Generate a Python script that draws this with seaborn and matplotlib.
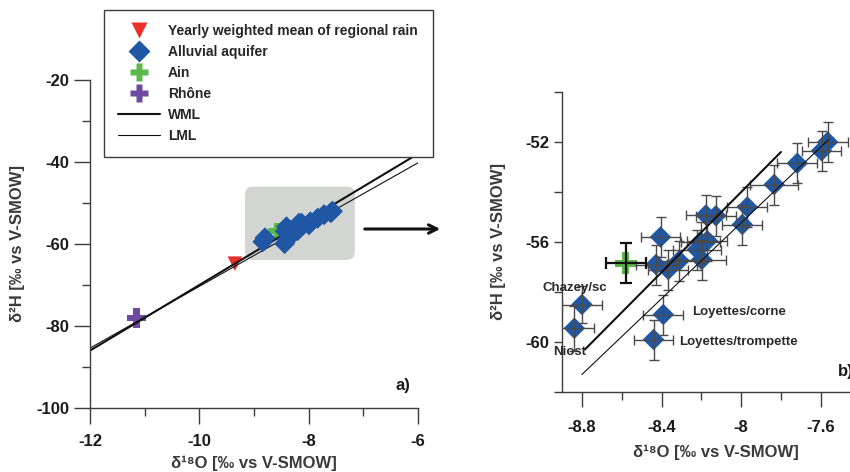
import matplotlib
matplotlib.use("Agg")
import matplotlib.pyplot as plt
from matplotlib.lines import Line2D
from matplotlib.patches import FancyBboxPatch, FancyArrowPatch
from matplotlib.ticker import MultipleLocator, FuncFormatter
import seaborn as sns

# ----------------------------------------------------------------------
# Data
# ----------------------------------------------------------------------
alluvial_d18o = [-7.565, -7.596, -7.718, -7.834, -7.969, -7.994, -8.127, -8.177,
                 -8.405, -8.204, -8.170, -8.220, -8.198, -8.311, -8.428, -8.366,
                 -8.800, -8.838, -8.391, -8.440]
alluvial_d2h = [-52.0, -52.35, -52.85, -53.7, -54.6, -55.3, -54.95, -54.92,
                -55.8, -56.0, -55.95, -56.3, -56.7, -56.75, -56.9, -57.1,
                -58.5, -59.45, -58.9, -59.9]
alluvial_err_x = [0.10, 0.10, 0.10, 0.12, 0.10, 0.10, 0.10, 0.10,
                  0.10, 0.10, 0.10, 0.12, 0.12, 0.10, 0.10, 0.10,
                  0.10, 0.10, 0.10, 0.10]
alluvial_err_y = [0.8, 0.8, 0.8, 0.8, 0.8, 0.8, 0.8, 0.8,
                  0.8, 0.8, 0.8, 0.8, 0.8, 0.8, 0.8, 0.8,
                  0.75, 0.9, 0.8, 0.8]

ain_d18o = [-8.58]
ain_d2h = [-56.85]
ain_err_x = [0.10]
ain_err_y = [0.8]

rhone_d18o = [-11.15]
rhone_d2h = [-78.1]

rain_d18o = [-9.35]
rain_d2h = [-64.8]

# meteoric lines (end points as drawn)
wml_a_x = [-12.0, -6.0]
wml_a_y = [-86.0, -38.0]
lml_a_x = [-12.0, -6.0]
lml_a_y = [-85.4, -40.2]
wml_b_x = [-8.785, -7.80]
wml_b_y = [-60.3, -52.4]
lml_b_x = [-8.80, -7.56]
lml_b_y = [-61.3, -51.9]

site_labels = ["Chazey/sc", "Niost", "Loyettes/corne", "Loyettes/trompette"]
site_x = [-8.835, -8.946, -8.244, -8.311]
site_y = [-57.84, -60.4, -58.79, -59.99]
site_ha = ["center", "left", "left", "left"]

# ----------------------------------------------------------------------
# Style
# ----------------------------------------------------------------------
sns.set_style("ticks")
plt.rcParams["font.family"] = ["Liberation Sans", "DejaVu Sans"]
plt.rcParams["font.weight"] = "bold"

RED = "#e8312b"
BLUE = "#1f57a5"
GREEN = "#5cb84a"
PURPLE = "#6c4ba0"
SPINE = "#3c3c3c"
LABEL = "#3a3a3a"

fig = plt.figure(figsize=(8.5, 4.72), dpi=100)
ax1 = fig.add_axes([90 / 850, 1 - 408 / 472, 328 / 850, 328 / 472])
ax2 = fig.add_axes([562 / 850, 1 - 392 / 472, 308.5 / 850, 300 / 472])

fmt = FuncFormatter(lambda v, _: f"{v:g}")

for ax in (ax1, ax2):
    for side in ("top", "right"):
        ax.spines[side].set_visible(False)
    for side in ("left", "bottom"):
        ax.spines[side].set_color(SPINE)
        ax.spines[side].set_linewidth(1.0)
    ax.tick_params(which="both", direction="out", color=SPINE, width=1.0,
                   labelsize=12, labelcolor="#1a1a1a")
    ax.xaxis.set_major_formatter(fmt)
    ax.yaxis.set_major_formatter(fmt)

# ----------------------------------------------------------------------
# Panel a
# ----------------------------------------------------------------------
ax1.set_xlim(-12, -6)
ax1.set_ylim(-100, -20)
ax1.xaxis.set_major_locator(MultipleLocator(2))
ax1.xaxis.set_minor_locator(MultipleLocator(1))
ax1.yaxis.set_major_locator(MultipleLocator(20))
ax1.yaxis.set_minor_locator(MultipleLocator(10))
ax1.tick_params(which="major", length=11.5)
ax1.tick_params(which="minor", length=5.8)
ax1.tick_params(axis="x", which="major", pad=7)

box = FancyBboxPatch((-9.165, -63.9), 2.01, 17.9,
                     boxstyle="round,pad=0,rounding_size=0.15",
                     mutation_aspect=13.3, facecolor="#d3d5d3",
                     edgecolor="none", zorder=0.5)
ax1.add_patch(box)

sns.lineplot(x=wml_a_x, y=wml_a_y, ax=ax1, color="#111111", lw=1.5, zorder=2.5)
sns.lineplot(x=lml_a_x, y=lml_a_y, ax=ax1, color="#111111", lw=0.8, zorder=2.5)

sns.scatterplot(x=rhone_d18o, y=rhone_d2h, ax=ax1, marker="P", s=200,
                color=PURPLE, edgecolor="none", zorder=2)
sns.scatterplot(x=rain_d18o, y=rain_d2h, ax=ax1, marker="v", s=110,
                color=RED, edgecolor="none", zorder=2)
sns.scatterplot(x=ain_d18o, y=ain_d2h, ax=ax1, marker="P", s=150,
                color=GREEN, edgecolor="none", zorder=2)
sns.scatterplot(x=alluvial_d18o, y=alluvial_d2h, ax=ax1, marker="D", s=115,
                color=BLUE, edgecolor="none", zorder=3)

ax1.set_xlabel("δ¹⁸O [‰ vs V-SMOW]", fontsize=12, fontweight="bold",
               color=LABEL, labelpad=5)
ax1.set_ylabel("δ²H [‰ vs V-SMOW]", fontsize=12, fontweight="bold",
               color=LABEL, labelpad=8)
ax1.text(0.954, 0.07, "a)", transform=ax1.transAxes, ha="center",
         va="center", fontsize=12, fontweight="bold", color="#1a1a1a")
ax1.spines["left"].set_bounds(-100, -20)

# ----------------------------------------------------------------------
# Panel b
# ----------------------------------------------------------------------
ax2.set_xlim(-8.9, -7.35)
ax2.set_ylim(-62, -50)
ax2.xaxis.set_minor_locator(MultipleLocator(0.2))
ax2.yaxis.set_minor_locator(MultipleLocator(2))
ax2.set_xticks([-8.8, -8.4, -8.0, -7.6])
ax2.set_yticks([-60, -56, -52])
ax2.tick_params(axis="x", which="major", length=11, pad=9)
ax2.tick_params(axis="x", which="minor", length=5.8)
ax2.tick_params(axis="y", which="both", length=5.8)

sns.scatterplot(x=alluvial_d18o, y=alluvial_d2h, ax=ax2, marker="D", s=120,
                color=BLUE, edgecolor="none", zorder=2)
ax2.errorbar(alluvial_d18o, alluvial_d2h, xerr=alluvial_err_x,
             yerr=alluvial_err_y, fmt="none", ecolor="#4a4a4a",
             elinewidth=1.0, capsize=3.5, capthick=1.0, zorder=3)
sns.scatterplot(x=ain_d18o, y=ain_d2h, ax=ax2, marker="P", s=240,
                color=GREEN, edgecolor="none", zorder=2)
ax2.errorbar(ain_d18o, ain_d2h, xerr=ain_err_x, yerr=ain_err_y, fmt="none",
             ecolor="#111111", elinewidth=1.6, capsize=4, capthick=1.6,
             zorder=3)

sns.lineplot(x=wml_b_x, y=wml_b_y, ax=ax2, color="#111111", lw=1.5, zorder=4)
sns.lineplot(x=lml_b_x, y=lml_b_y, ax=ax2, color="#111111", lw=0.8, zorder=4)

for lab, x, y, ha in zip(site_labels, site_x, site_y, site_ha):
    ax2.text(x, y, lab, ha=ha, va="center", fontsize=9.5, fontweight="bold",
             color="#2a2a2a", clip_on=False, zorder=5)

ax2.set_xlabel("δ¹⁸O [‰ vs V-SMOW]", fontsize=12, fontweight="bold",
               color=LABEL, labelpad=7)
ax2.set_ylabel("δ²H [‰ vs V-SMOW]", fontsize=12, fontweight="bold",
               color=LABEL, labelpad=14)
# panel tag sits on the right edge, cut off as in the source figure
ax2.text(0.895, 0.067, "b)", transform=ax2.transAxes, ha="left",
         va="center", fontsize=12, fontweight="bold", color="#1a1a1a")

# ----------------------------------------------------------------------
# Legend and zoom arrow
# ----------------------------------------------------------------------
handles = [
    Line2D([], [], ls="none", marker="v", ms=12, color=RED, mec="none"),
    Line2D([], [], ls="none", marker="D", ms=11, color=BLUE, mec="none"),
    Line2D([], [], ls="none", marker="P", ms=12.5, color=GREEN, mec="none"),
    Line2D([], [], ls="none", marker="P", ms=12.5, color=PURPLE, mec="none"),
    Line2D([], [], color="#111111", lw=1.5),
    Line2D([], [], color="#111111", lw=0.8),
]
labels = ["Yearly weighted mean of regional rain", "Alluvial aquifer", "Ain",
          "Rhône", "WML", "LML"]
leg = fig.legend(handles, labels, loc="upper left",
                 bbox_to_anchor=(104 / 850, 1 - 152 / 472, 329 / 850, 142 / 472),
                 mode="expand", borderaxespad=0, fancybox=False,
                 frameon=True, edgecolor=SPINE, framealpha=1,
                 prop={"size": 10, "weight": "bold"}, handlelength=3.0,
                 handletextpad=0.6, labelspacing=0.5, borderpad=1.0)
leg.get_frame().set_linewidth(1.0)

fig.add_artist(FancyArrowPatch(
    (362 / 850, 1 - 229 / 472), (443 / 850, 1 - 229 / 472),
    transform=fig.transFigure, arrowstyle="->,head_length=6,head_width=3",
    lw=2.2, color="#111111"))

fig.savefig("out.png", dpi=100)
